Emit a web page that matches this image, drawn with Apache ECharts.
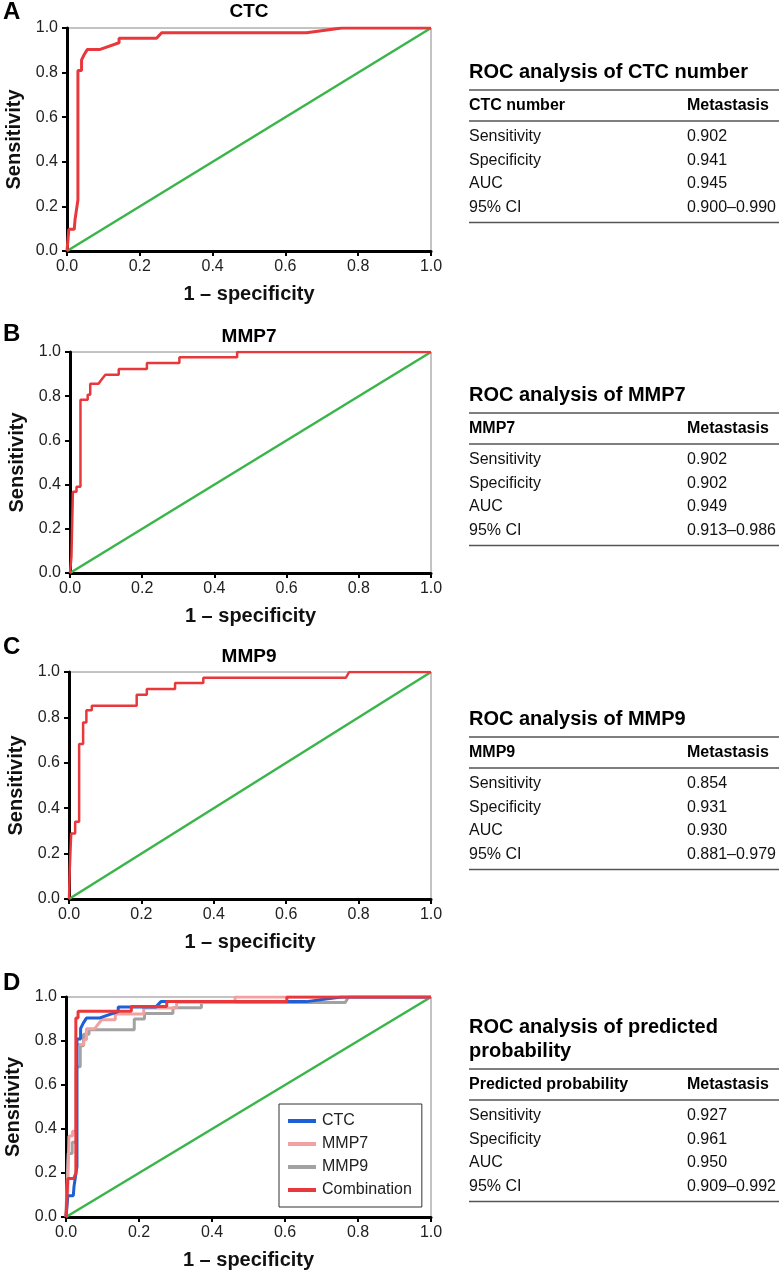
<!DOCTYPE html>
<html><head><meta charset="utf-8">
<script src="https://cdn.jsdelivr.net/npm/echarts@6/dist/echarts.min.js"></script>
<style>html,body{margin:0;padding:0;background:#fff}#c{width:779px;height:1272px}</style>
</head><body><div id="c"></div>
<script>
// ---- data ----
const panelLetters = ['A', 'B', 'C', 'D'];
const panelTitles = ['CTC', 'MMP7', 'MMP9', ''];
const tickLabels = ['0.0', '0.2', '0.4', '0.6', '0.8', '1.0'];
const xAxisName = '1 \u2013 specificity';
const yAxisName = 'Sensitivity';
const legendNames = ['CTC', 'MMP7', 'MMP9', 'Combination'];
const diagonal = [[0, 0], [1, 1]];
const rocCTC = [[0,0],[0.005,0],[0.005,0.097],[0.02,0.097],[0.022,0.14],[0.03,0.229],[0.03,0.809],[0.04,0.809],[0.04,0.857],[0.047,0.88],[0.056,0.904],[0.091,0.904],[0.143,0.934],[0.143,0.954],[0.246,0.954],[0.26,0.979],[0.658,0.979],[0.755,1],[1,1]];
const rocMMP7 = [[0,0],[0.004,0.073],[0.008,0.073],[0.008,0.368],[0.018,0.368],[0.018,0.39],[0.029,0.39],[0.029,0.784],[0.049,0.784],[0.049,0.806],[0.056,0.806],[0.056,0.856],[0.079,0.856],[0.087,0.874],[0.098,0.897],[0.135,0.897],[0.135,0.923],[0.213,0.923],[0.213,0.95],[0.303,0.95],[0.303,0.976],[0.463,0.976],[0.463,1],[1,1]];
const rocMMP9 = [[0,0],[0.002,0.127],[0.006,0.127],[0.006,0.289],[0.017,0.289],[0.017,0.34],[0.028,0.34],[0.028,0.683],[0.039,0.683],[0.039,0.778],[0.048,0.778],[0.048,0.831],[0.063,0.831],[0.063,0.851],[0.187,0.851],[0.187,0.9],[0.215,0.9],[0.215,0.925],[0.293,0.925],[0.293,0.951],[0.371,0.951],[0.371,0.975],[0.765,0.975],[0.774,1],[1,1]];
const rocCombination = [[0,0],[0.005,0],[0.005,0.175],[0.021,0.175],[0.027,0.2],[0.027,0.904],[0.033,0.904],[0.033,0.935],[0.179,0.935],[0.179,0.957],[0.276,0.957],[0.276,0.98],[0.605,0.98],[0.605,1],[1,1]];
const tableTitles = [['ROC analysis of CTC number'], ['ROC analysis of MMP7'], ['ROC analysis of MMP9'], ['ROC analysis of predicted', 'probability']];
const tableHeaders = ['CTC number', 'MMP7', 'MMP9', 'Predicted probability'];
const tableColumn = 'Metastasis';
const rowLabels = ['Sensitivity', 'Specificity', 'AUC', '95% CI'];
const tableValuesA = ['0.902', '0.941', '0.945', '0.900\u20130.990'];
const tableValuesB = ['0.902', '0.902', '0.949', '0.913\u20130.986'];
const tableValuesC = ['0.854', '0.931', '0.930', '0.881\u20130.979'];
const tableValuesD = ['0.927', '0.961', '0.950', '0.909\u20130.992'];

// ---- layout ----
const FONT = '"Liberation Sans", Arial, Helvetica, sans-serif';
const grids = [
  {left: 67, top: 28, height: 223},
  {left: 70, top: 352, height: 221},
  {left: 69, top: 672, height: 227},
  {left: 66, top: 997, height: 220}
];
const letterY = [12, 334, 647, 983];
const titleY = [12, 337, 657];
const tableLineY = [90, 413, 737, 1069];
const tableValues = [tableValuesA, tableValuesB, tableValuesC, tableValuesD];

const RED = '#e8383b', GREEN = '#3ab54a', BLUE = '#1d5fd6', PINK = '#f3a0a0', GRAY = '#a2a2a2';

const option = {
  animation: false,
  backgroundColor: '#fff',
  textStyle: {fontFamily: FONT},
  grid: grids.map(g => ({left: g.left, right: 348, top: g.top, height: g.height, show: true, borderColor: '#888', borderWidth: 1, backgroundColor: 'transparent'})),
  xAxis: grids.map((g, i) => ({
    type: 'value', gridIndex: i, min: 0, max: 1, interval: 0.2,
    name: xAxisName, nameLocation: 'middle', nameGap: 33,
    nameTextStyle: {fontSize: 20, fontWeight: 'bold', color: '#111', fontFamily: FONT},
    axisLine: {show: true, onZero: false, lineStyle: {color: '#000', width: 3}},
    axisTick: {show: true, inside: false, length: 5, lineStyle: {color: '#000', width: 2}},
    axisLabel: {fontSize: 16, color: '#222', margin: 8, fontFamily: FONT, formatter: v => tickLabels[Math.round(v * 5)]},
    splitLine: {show: false}
  })),
  yAxis: grids.map((g, i) => ({
    type: 'value', gridIndex: i, min: 0, max: 1, interval: 0.2,
    name: yAxisName, nameLocation: 'middle', nameGap: 43,
    nameTextStyle: {fontSize: 20, fontWeight: 'bold', color: '#111', fontFamily: FONT},
    axisLine: {show: true, onZero: false, lineStyle: {color: '#000', width: 3}},
    axisTick: {show: true, inside: false, length: 5, lineStyle: {color: '#000', width: 2}},
    axisLabel: {fontSize: 16, color: '#222', margin: 9, fontFamily: FONT, formatter: v => tickLabels[Math.round(v * 5)]},
    splitLine: {show: false}
  })),
  legend: {
    show: true, orient: 'vertical', left: 279, top: 1104,
    data: legendNames,
    backgroundColor: '#fff', borderColor: '#333', borderWidth: 1,
    padding: [9, 10, 9, 9], itemGap: 7, itemWidth: 28, itemHeight: 4, icon: 'rect',
    textStyle: {fontSize: 16, color: '#222', fontFamily: FONT, padding: [0, 0, 0, 1]},
    selectedMode: false
  },
  series: [],
  graphic: []
};

function line(name, idx, data, color, width, z) {
  option.series.push({
    name: name, type: 'line', xAxisIndex: idx, yAxisIndex: idx, data: data,
    showSymbol: false, symbol: 'none', z: z || 2,
    lineStyle: {color: color, width: width}, itemStyle: {color: color}
  });
}
// diagonals
for (let i = 0; i < 4; i++) line('Reference ' + panelLetters[i], i, diagonal, GREEN, 2.5, 2);
line('CTC curve', 0, rocCTC, RED, 3, 3);
line('MMP7 curve', 1, rocMMP7, RED, 2.5, 3);
line('MMP9 curve', 2, rocMMP9, RED, 2.5, 3);
line('MMP9', 3, rocMMP9, GRAY, 3, 3);
line('MMP7', 3, rocMMP7, PINK, 3, 3);
line('CTC', 3, rocCTC, BLUE, 3, 3);
line('Combination', 3, rocCombination, RED, 3, 4);

// panel letters and titles
panelLetters.forEach((L, i) => {
  option.graphic.push({type: 'text', x: 3, y: letterY[i], style: {text: L, font: 'bold 24px ' + FONT, fill: '#000', align: 'left', verticalAlign: 'middle'}});
});
panelTitles.forEach((t, i) => {
  if (!t) return;
  option.graphic.push({type: 'text', x: 249, y: titleY[i], style: {text: t, font: 'bold 19px ' + FONT, fill: '#000', align: 'center', verticalAlign: 'middle'}});
});

// tables
const TX = 469, VX = 687, TR = 779;
tableTitles.forEach((tl, i) => {
  const l1 = tableLineY[i];
  tl.forEach((s, k) => {
    const y = l1 - 18 - (tl.length - 1 - k) * 24;
    option.graphic.push({type: 'text', x: TX, y: y, style: {text: s, font: 'bold 20px ' + FONT, fill: '#000', align: 'left', verticalAlign: 'middle'}});
  });
  const hy = l1 + 16, l2 = l1 + 31;
  option.graphic.push({type: 'line', shape: {x1: TX, y1: l1, x2: TR, y2: l1}, style: {stroke: '#555', lineWidth: 1.5}});
  option.graphic.push({type: 'text', x: TX, y: hy, style: {text: tableHeaders[i], font: 'bold 16px ' + FONT, fill: '#000', align: 'left', verticalAlign: 'middle'}});
  option.graphic.push({type: 'text', x: VX, y: hy, style: {text: tableColumn, font: 'bold 16px ' + FONT, fill: '#000', align: 'left', verticalAlign: 'middle'}});
  option.graphic.push({type: 'line', shape: {x1: TX, y1: l2, x2: TR, y2: l2}, style: {stroke: '#555', lineWidth: 1.5}});
  rowLabels.forEach((r, k) => {
    const y = l2 + 16 + k * 23.5;
    option.graphic.push({type: 'text', x: TX, y: y, style: {text: r, font: '16px ' + FONT, fill: '#111', align: 'left', verticalAlign: 'middle'}});
    option.graphic.push({type: 'text', x: VX, y: y, style: {text: tableValues[i][k], font: '16px ' + FONT, fill: '#111', align: 'left', verticalAlign: 'middle'}});
  });
  const lb = l2 + 16 + 3 * 23.5 + 15;
  option.graphic.push({type: 'line', shape: {x1: TX, y1: lb, x2: TR, y2: lb}, style: {stroke: '#555', lineWidth: 1.5}});
});

const chart = echarts.init(document.getElementById('c'), null, {renderer: 'canvas'});
chart.setOption(option);
</script></body></html>
